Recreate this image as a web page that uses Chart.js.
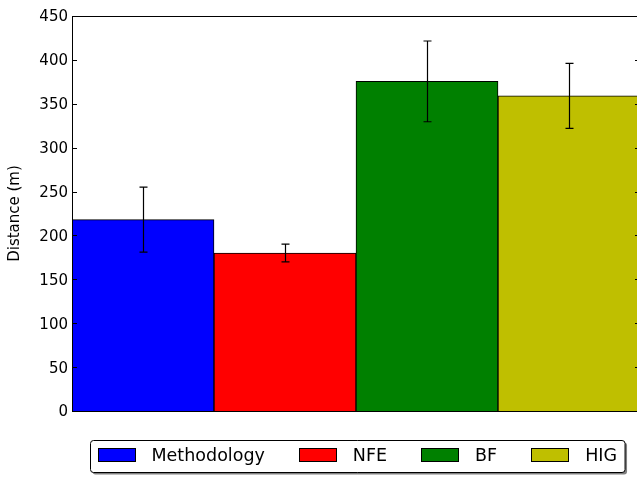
<!DOCTYPE html>
<html>
<head>
<meta charset="utf-8">
<script src="https://cdn.jsdelivr.net/npm/chart.js@4.4.1/dist/chart.umd.min.js"></script>
<style>
    html, body { margin: 0; padding: 0; background: #fff; overflow: hidden; }
    #wrap { width: 645px; height: 480px; }
</style>
</head>
<body>
<div id="wrap"><canvas id="distChart" width="645" height="480"></canvas></div>
<script>
// Data
const categories = ["Methodology", "NFE", "BF", "HIG"];
const distances = [218, 180, 375.5, 359];
const errors = [37, 10, 46, 37];
const barColors = ["#0000ff", "#ff0000", "#008000", "#bfbf00"];
const yTicks = [0, 50, 100, 150, 200, 250, 300, 350, 400, 450];

const FONT = "'DejaVu Sans', sans-serif";

// Frame + inward tick marks on both sides
const framePlugin = {
    id: "frame",
    afterDraw(chart) {
        const ctx = chart.ctx;
        const a = chart.chartArea;
        const y = chart.scales.y;
        ctx.save();
        ctx.strokeStyle = "#000";
        ctx.lineWidth = 1;
        ctx.strokeRect(a.left + 0.5, a.top + 0.5, a.right - a.left, a.bottom - a.top);
        ctx.beginPath();
        y.ticks.forEach(t => {
            const py = Math.round(y.getPixelForValue(t.value)) + 0.5;
            ctx.moveTo(a.left, py);
            ctx.lineTo(a.left + 5, py);
            ctx.moveTo(a.right - 5, py);
            ctx.lineTo(a.right, py);
        });
        ctx.stroke();
        ctx.restore();
    }
};

// Error bars at the centre of each bar
const errorBarPlugin = {
    id: "errorBars",
    afterDatasetsDraw(chart) {
        const ctx = chart.ctx;
        const y = chart.scales.y;
        const meta = chart.getDatasetMeta(0);
        ctx.save();
        ctx.strokeStyle = "#000";
        ctx.lineWidth = 1.2;
        meta.data.forEach((bar, i) => {
            const x = Math.round(bar.x) + 0.5;
            const top = y.getPixelForValue(distances[i] + errors[i]);
            const bot = y.getPixelForValue(distances[i] - errors[i]);
            ctx.beginPath();
            ctx.moveTo(x, top);
            ctx.lineTo(x, bot);
            ctx.moveTo(x - 4, top);
            ctx.lineTo(x + 4, top);
            ctx.moveTo(x - 4, bot);
            ctx.lineTo(x + 4, bot);
            ctx.stroke();
        });
        ctx.restore();
    }
};

// Legend box under the plot
const legendPlugin = {
    id: "boxLegend",
    afterDraw(chart) {
        const ctx = chart.ctx;
        const ds = chart.data.datasets[0];
        const swW = 38, swH = 14, textPad = 16, colGap = 34, padL = 7, padR = 8;
        ctx.save();
        ctx.font = "17.5px " + FONT;
        const widths = chart.data.labels.map(l => ctx.measureText(l).width);
        let total = padL + padR;
        widths.forEach((w, i) => {
            total += swW + textPad + w + (i < widths.length - 1 ? colGap : 0);
        });
        const cx = 357;
        const left = Math.round(cx - total / 2) + 0.5;
        const top = 440.5, h = 32;

        const rr = (x, yy, w, hh, r) => {
            ctx.beginPath();
            ctx.moveTo(x + r, yy);
            ctx.lineTo(x + w - r, yy);
            ctx.quadraticCurveTo(x + w, yy, x + w, yy + r);
            ctx.lineTo(x + w, yy + hh - r);
            ctx.quadraticCurveTo(x + w, yy + hh, x + w - r, yy + hh);
            ctx.lineTo(x + r, yy + hh);
            ctx.quadraticCurveTo(x, yy + hh, x, yy + hh - r);
            ctx.lineTo(x, yy + r);
            ctx.quadraticCurveTo(x, yy, x + r, yy);
            ctx.closePath();
        };
        // shadow
        ctx.fillStyle = "#808080";
        rr(left + 2, top + 2, total, h, 3);
        ctx.fill();
        ctx.fillStyle = "#fff";
        rr(left, top, total, h, 3);
        ctx.fill();
        ctx.strokeStyle = "#000";
        ctx.lineWidth = 1;
        ctx.stroke();

        let x = left + padL;
        ctx.textBaseline = "middle";
        ctx.textAlign = "left";
        chart.data.labels.forEach((label, i) => {
            ctx.fillStyle = ds.backgroundColor[i];
            ctx.fillRect(Math.round(x), 448, swW, swH);
            ctx.strokeRect(Math.round(x) + 0.5, 448.5, swW - 1, swH - 1);
            x += swW + textPad;
            ctx.fillStyle = "#000";
            ctx.fillText(label, x, 456);
            x += widths[i] + colGap;
        });
        ctx.restore();
    }
};

new Chart(document.getElementById("distChart"), {
    type: "bar",
    data: {
        labels: categories,
        datasets: [{
            data: distances,
            backgroundColor: barColors,
            borderColor: "#000",
            borderWidth: 1,
            categoryPercentage: 1.0,
            barPercentage: 1.0
        }]
    },
    options: {
        responsive: false,
        animation: false,
        devicePixelRatio: 1,
        layout: { padding: { left: 0, top: 16, right: 5, bottom: 69 } },
        plugins: {
            legend: { display: false },
            tooltip: { enabled: false }
        },
        scales: {
            x: { display: false },
            y: {
                min: 0,
                max: 450,
                afterBuildTicks: scale => {
                    scale.ticks = yTicks.map(v => ({ value: v }));
                },
                afterFit: scale => { scale.width = 72; },
                grid: { display: false, drawTicks: false },
                border: { display: false },
                ticks: {
                    color: "#000",
                    padding: 4,
                    labelOffset: 1.5,
                    font: { family: FONT, size: 15 }
                },
                title: {
                    display: true,
                    text: "Distance (m)",
                    color: "#000",
                    padding: { top: 6, bottom: 0 },
                    font: { family: FONT, size: 15 }
                }
            }
        }
    },
    plugins: [framePlugin, errorBarPlugin, legendPlugin]
});
</script>
</body>
</html>
